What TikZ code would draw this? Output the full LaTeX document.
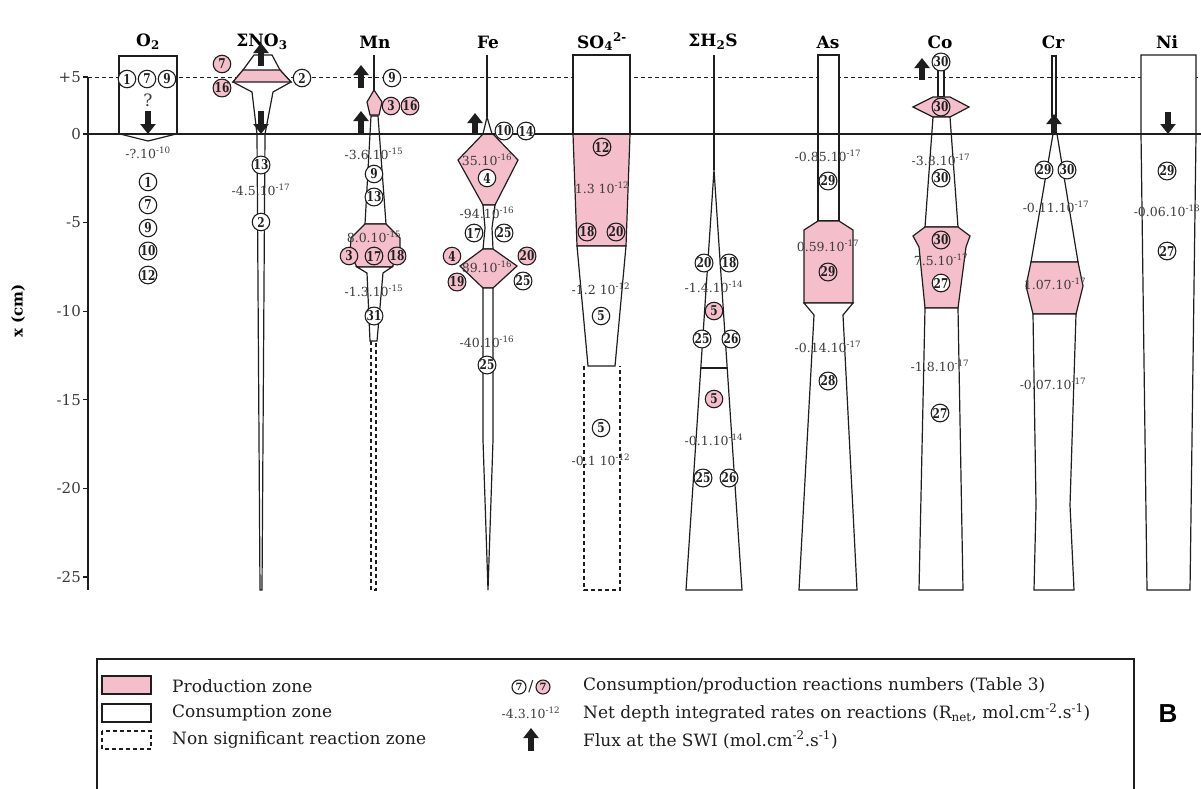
\documentclass[tikz,border=0pt]{standalone}
\usepackage{fontspec}
\setmainfont{DejaVu Serif}
\newfontfamily\sansfnt{Liberation Sans}
\usetikzlibrary{arrows.meta}
\definecolor{pinkz}{RGB}{245,190,203}
\definecolor{txtg}{RGB}{60,60,60}
\definecolor{edge}{RGB}{30,30,30}
\newcommand\cnum[1]{\scalebox{0.78}[1]{#1}}
\newcommand\Cw[4]{\node[cw] (#1) at (#2,#3) {\cnum{#4}};}
\newcommand\Cp[4]{\node[cp] (#1) at (#2,#3) {\cnum{#4}};}
\newcommand\myrate[4]{\node[rate] (#1) at (#2,#3) {#4};}
\tikzset{
 prod/.style={draw=edge, fill=pinkz, line width=1.2pt},
 cons/.style={draw=edge, fill=white, line width=1.2pt},
 nonsig/.style={draw=edge, dash pattern=on 4pt off 3pt, line width=1.1pt},
 cw/.style={circle, draw=edge, fill=white, line width=1.1pt, inner sep=0pt, minimum size=17.5pt, font=\fontsize{13.5}{13.5}\selectfont\bfseries, text=edge},
 cp/.style={cw, fill=pinkz},
 rate/.style={font=\fontsize{12.5}{13}\selectfont, text=txtg, inner sep=0pt},
 flux/.style={line width=6.5pt, draw=edge, -{Triangle[width=15pt,length=10pt]}},
 title/.style={font=\fontsize{17}{18}\selectfont\bfseries},
 ticklab/.style={font=\fontsize{15}{16}\selectfont, text=txtg, anchor=east, inner sep=0pt},
 legtxt/.style={font=\fontsize{17}{18}\selectfont, text=edge, anchor=west, inner sep=0pt},
}
\begin{document}
\begin{tikzpicture}[x=1pt,y=-1pt]
\useasboundingbox[fill=white] (0,0) rectangle (1201,788);

% titles
\node[title] (tO2) at (148,42) {O\textsubscript{2}};
\node[title] (tNO3) at (262,42) {ΣNO\textsubscript{3}};
\node[title] (tMn) at (375,42) {Mn};
\node[title] (tFe) at (488,42) {Fe};
\node[title] (tSO4) at (602,42) {SO\textsubscript{4}\textsuperscript{2-}};
\node[title] (tH2S) at (713,42) {ΣH\textsubscript{2}S};
\node[title] (tAs) at (828,42) {As};
\node[title] (tCo) at (940,42) {Co};
\node[title] (tCr) at (1053,42) {Cr};
\node[title] (tNi) at (1167,42) {Ni};

% axis
\node[rotate=90, font=\fontsize{15}{16}\selectfont\bfseries] (xlab) at (18,311) {x (cm)};
\draw[line width=1.1pt, draw=edge] (88,77) -- (88,590);
\foreach \yy/\lab in {77/+5,134/0,222.6/-5,311.2/-10,399.8/-15,488.4/-20,577/-25}{
  \draw[line width=1.1pt, draw=edge] (83,\yy) -- (88,\yy);
  \node[ticklab] at (81,\yy) {\lab};
}
\draw[line width=1pt, draw=edge, dash pattern=on 4pt off 3pt] (88,77) -- (1201,77);

% ---- O2
\draw[cons] (119,56) rectangle (177,134);
\draw[cons] (120,134) -- (148,141) -- (176,134) -- cycle;
% ---- NO3
\draw[cons] (254,55) -- (272,55) -- (280,70) -- (291,82) -- (273,92) -- (265,134) -- (257,134) -- (252,92) -- (233,82) -- (243,70) -- cycle;
\draw[prod] (243,70) -- (280,70) -- (291,82) -- (233,82) -- cycle;
\draw[cons] (257,134) -- (260,590) -- (262,590) -- (265,134) -- cycle;
% ---- Mn
\draw[line width=1.2pt, draw=edge] (374,55) -- (374,90);
\draw[prod] (374,90) -- (382,102) -- (379,115) -- (370,115) -- (367,102) -- cycle;
\draw[cons] (371,116) -- (378,116) -- (386,224) -- (365,224) -- cycle;
\draw[prod] (365,224) -- (386,224) -- (400,238) -- (400,254) -- (392,267) -- (357,267) -- (350,254) -- (351,238) -- cycle;
\draw[cons] (357,267) -- (367,273) -- (370,341) -- (377,341) -- (383,273) -- (392,267) -- cycle;
\draw[nonsig] (371,341) -- (371,590) -- (376,590) -- (376,341);
% ---- Fe
\draw[line width=1.2pt, draw=edge] (487,55) -- (487,117);
\draw[cons] (487,117) -- (492,134) -- (483,134) -- cycle;
\draw[prod] (483,134) -- (493,134) -- (518,160) -- (495,205) -- (483,205) -- (458,160) -- cycle;
\draw[cons] (483,205) -- (495,205) -- (492,228) -- (493,249) -- (483,249) -- (485,228) -- cycle;
\draw[prod] (483,249) -- (493,249) -- (517,266) -- (493,288) -- (483,288) -- (460,266) -- cycle;
\draw[cons] (483,288) -- (493,288) -- (493,440) -- (488,590) -- (483,440) -- cycle;
% ---- SO4
\draw[cons] (573,55) rectangle (630,134);
\draw[prod] (573,134) -- (630,134) -- (626,246) -- (577,246) -- cycle;
\draw[cons] (577,246) -- (626,246) -- (615,366) -- (588,366) -- cycle;
\draw[nonsig] (584,366) -- (584,590) -- (620,590) -- (620,366);
% ---- H2S
\draw[line width=1.2pt, draw=edge] (714,55) -- (714,170);
\draw[cons] (714,170) -- (742,590) -- (686,590) -- cycle;
\draw[line width=1.3pt, draw=edge] (700,368) -- (728,368);
% ---- As
\draw[cons] (818,55) rectangle (839,221);
\draw[prod] (818,221) -- (839,221) -- (853,230) -- (853,303) -- (804,303) -- (804,230) -- cycle;
\draw[cons] (804,303) -- (814,315) -- (799,590) -- (857,590) -- (843,315) -- (853,303) -- cycle;
% ---- Co
\draw[cons] (938,70) rectangle (944,97);
\draw[prod] (933,97) -- (950,97) -- (969,107) -- (950,117) -- (933,117) -- (913,107) -- cycle;
\draw[cons] (933,117) -- (950,117) -- (958,227) -- (925,227) -- cycle;
\draw[prod] (925,227) -- (958,227) -- (970,236) -- (966,247) -- (958,308) -- (925,308) -- (919,247) -- (913,236) -- cycle;
\draw[cons] (925,308) -- (958,308) -- (963,590) -- (919,590) -- cycle;
% ---- Cr
\draw[cons] (1052,56) rectangle (1056,116);
\draw[cons] (1053,134) -- (1057,134) -- (1078,262) -- (1031,262) -- cycle;
\draw[prod] (1031,262) -- (1078,262) -- (1083,286) -- (1076,314) -- (1033,314) -- (1026,286) -- cycle;
\draw[cons] (1033,314) -- (1076,314) -- (1070,505) -- (1074,590) -- (1034,590) -- (1036,505) -- cycle;
% ---- Ni
\draw[cons] (1141,55) -- (1196,55) -- (1196,134) -- (1190,590) -- (1147,590) -- (1141,134) -- cycle;

% SWI line
\draw[line width=1.2pt, draw=edge] (88,134) -- (1201,134);

% ---- flux arrows
\coordinate (fO2a) at (148,111); \coordinate (fO2b) at (148,134);
\draw[flux] (fO2a) -- (fO2b);
\coordinate (fN1a) at (261,66); \coordinate (fN1b) at (261,43);
\draw[flux] (fN1a) -- (fN1b);
\coordinate (fN2a) at (261,111); \coordinate (fN2b) at (261,134);
\draw[flux] (fN2a) -- (fN2b);
\coordinate (fM1a) at (361,88); \coordinate (fM1b) at (361,65);
\draw[flux] (fM1a) -- (fM1b);
\coordinate (fM2a) at (361,134); \coordinate (fM2b) at (361,111);
\draw[flux] (fM2a) -- (fM2b);
\coordinate (fFa) at (475,135); \coordinate (fFb) at (475,113);
\draw[flux] (fFa) -- (fFb);
\coordinate (fCoa) at (922,80); \coordinate (fCob) at (922,58);
\draw[flux] (fCoa) -- (fCob);
\coordinate (fCra) at (1054,135); \coordinate (fCrb) at (1054,114);
\draw[flux] (fCra) -- (fCrb);
\coordinate (fNia) at (1168,112); \coordinate (fNib) at (1168,134);
\draw[flux] (fNia) -- (fNib);

% ---- O2 labels
\Cw{o2a}{127}{79}{1} \Cw{o2b}{147}{79}{7} \Cw{o2c}{167}{79}{9}
\node[font=\fontsize{17}{17}\selectfont, text=txtg, inner sep=0pt] (o2q) at (148,100) {?};
\myrate{o2r}{148}{153}{-?.10\textsuperscript{-10}}
\Cw{o2d}{148}{182}{1} \Cw{o2e}{148}{205}{7} \Cw{o2f}{148}{228}{9}
\Cw{o2g}{148}{251}{10} \Cw{o2h}{148}{275}{12}
% ---- NO3 labels
\Cp{n1}{222}{64}{7} \Cp{n2}{222}{88}{16} \Cw{n3}{302}{78}{2}
\Cw{n4}{261}{165}{13}
\myrate{nr}{261}{190}{-4.5.10\textsuperscript{-17}}
\Cw{n5}{261}{222}{2}
% ---- Mn labels
\Cw{m1}{392}{78}{9} \Cp{m2}{391}{106}{3} \Cp{m3}{410}{106}{16}
\myrate{mr1}{374}{154}{-3.6.10\textsuperscript{-15}}
\Cw{m4}{374}{174}{9} \Cw{m5}{374}{197}{13}
\myrate{mr2}{374}{237}{8.0.10\textsuperscript{-15}}
\Cp{m6}{349}{256}{3} \Cp{m7}{374}{256}{17} \Cp{m8}{397}{256}{18}
\myrate{mr3}{374}{291}{-1.3.10\textsuperscript{-15}}
\Cw{m9}{374}{316}{31}
% ---- Fe labels
\Cw{f1}{504}{131}{10} \Cw{f2}{526}{131}{14}
\myrate{fr1}{487}{160}{35.10\textsuperscript{-16}}
\Cw{f3}{487}{178}{4}
\myrate{fr2}{487}{213}{-94.10\textsuperscript{-16}}
\Cw{f4}{474}{233}{17} \Cw{f5}{504}{233}{25}
\Cp{f6}{452}{256}{4} \Cp{f7}{527}{256}{20}
\myrate{fr3}{487}{267}{89.10\textsuperscript{-16}}
\Cp{f8}{457}{282}{19} \Cw{f9}{523}{281}{25}
\myrate{fr4}{487}{342}{-40.10\textsuperscript{-16}}
\Cw{f10}{487}{365}{25}
% ---- SO4 labels
\Cp{s1}{602}{147}{12}
\myrate{sr1}{602}{188}{1.3 10\textsuperscript{-12}}
\Cp{s2}{587}{232}{18} \Cp{s3}{616}{232}{20}
\myrate{sr2}{601}{289}{-1.2 10\textsuperscript{-12}}
\Cw{s4}{601}{316}{5}
\Cw{s5}{601}{428}{5}
\myrate{sr3}{601}{460}{-0.1 10\textsuperscript{-12}}
% ---- H2S labels
\Cw{h1}{704}{263}{20} \Cw{h2}{729}{263}{18}
\myrate{hr1}{714}{287}{-1.4.10\textsuperscript{-14}}
\Cp{h3}{714}{311}{5}
\Cw{h4}{702}{339}{25} \Cw{h5}{731}{339}{26}
\Cp{h6}{714}{399}{5}
\myrate{hr2}{714}{440}{-0.1.10\textsuperscript{-14}}
\Cw{h7}{703}{478}{25} \Cw{h8}{729}{478}{26}
% ---- As labels
\myrate{ar1}{828}{156}{-0.85.10\textsuperscript{-17}}
\Cw{a1}{828}{181}{29}
\myrate{ar2}{828}{246}{0.59.10\textsuperscript{-17}}
\Cp{a2}{828}{272}{29}
\myrate{ar3}{828}{347}{-0.14.10\textsuperscript{-17}}
\Cw{a3}{828}{381}{28}
% ---- Co labels
\Cw{c1}{941}{62}{30} \Cp{c2}{941}{107}{30}
\myrate{cr1}{941}{160}{-3.8.10\textsuperscript{-17}}
\Cw{c3}{941}{178}{30}
\Cp{c4}{941}{240}{30}
\myrate{cr2}{941}{260}{7.5.10\textsuperscript{-17}}
\Cw{c5}{941}{283}{27}
\myrate{cr3}{940}{366}{-1.8.10\textsuperscript{-17}}
\Cw{c6}{940}{413}{27}
% ---- Cr labels
\Cw{r1}{1044}{170}{29} \Cw{r2}{1067}{170}{30}
\myrate{rr1}{1056}{207}{-0.11.10\textsuperscript{-17}}
\myrate{rr2}{1055}{284}{1.07.10\textsuperscript{-17}}
\myrate{rr3}{1053}{384}{-0.07.10\textsuperscript{-17}}
% ---- Ni labels
\Cw{i1}{1167}{171}{29}
\myrate{ir1}{1167}{211}{-0.06.10\textsuperscript{-18}}
\Cw{i2}{1167}{251}{27}

% ---- legend
\draw[line width=1.1pt, draw=edge] (97,800) -- (97,659) -- (1134,659) -- (1134,800);
\draw[prod] (102,676) rectangle (151,694);
\draw[cons] (102,704) rectangle (151,722);
\draw[nonsig] (102,731) rectangle (151,749);
\node[legtxt] (l1) at (172,686) {Production zone};
\node[legtxt] (l2) at (172,713) {Consumption zone};
\node[legtxt] (l3) at (172,740) {Non significant reaction zone};
\node[cw, minimum size=14pt, font=\fontsize{10}{10}\selectfont\bfseries] (lc1) at (519,687) {7};
\node[font=\fontsize{15}{15}\selectfont, text=edge, inner sep=0pt] (lsl) at (531,687) {/};
\node[cp, minimum size=14pt, font=\fontsize{10}{10}\selectfont\bfseries] (lc2) at (543,687) {7};
\myrate{lr}{531}{713}{-4.3.10\textsuperscript{-12}}
\coordinate (lfa) at (531,751); \coordinate (lfb) at (531,728);
\draw[flux] (lfa) -- (lfb);
\node[legtxt] (l4) at (583,686) {Consumption/production reactions numbers (Table 3)};
\node[legtxt] (l5) at (583,713) {Net depth integrated rates on reactions (R\textsubscript{net}, mol.cm\textsuperscript{-2}.s\textsuperscript{-1})};
\node[legtxt] (l6) at (583,740) {Flux at the SWI (mol.cm\textsuperscript{-2}.s\textsuperscript{-1})};
\node[font=\sansfnt\bfseries\fontsize{26}{26}\selectfont] (B) at (1168,714) {B};
\end{tikzpicture}
\end{document}
